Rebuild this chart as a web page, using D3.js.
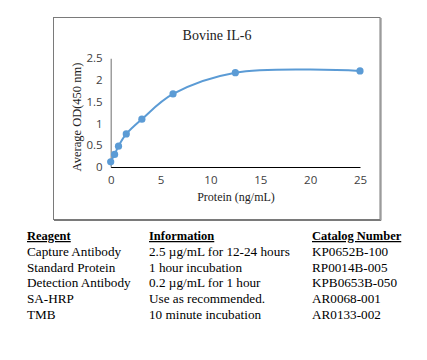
<!DOCTYPE html>
<html>
<head>
<meta charset="utf-8">
<script src="https://cdn.jsdelivr.net/npm/d3@7"></script>
<style>
  body { margin: 0; background: #fff; }
  svg { display: block; }
</style>
</head>
<body>
<svg id="chart" width="427" height="360"></svg>
<script>
// standard curve (2-fold dilution from 25 ng/mL)
const conc = [0, 0.390625, 0.78125, 1.5625, 3.125, 6.25, 12.5, 25];
const od = [0.12, 0.29, 0.48, 0.76, 1.1, 1.68, 2.17, 2.21];
const xTicks = [0, 5, 10, 15, 20, 25];
const yTicks = [0, 0.5, 1, 1.5, 2, 2.5];

const tableHead = ["Reagent", "Information", "Catalog Number"];
const reagents = ["Capture Antibody", "Standard Protein", "Detection Antibody", "SA-HRP", "TMB"];
const info = ["2.5 \u00b5g/mL for 12-24 hours", "1 hour incubation", "0.2 \u00b5g/mL for 1 hour", "Use as recommended.", "10 minute incubation"];
const catalog = ["KP0652B-100", "RP0014B-005", "KPB0653B-050", "AR0068-001", "AR0133-002"];

const svg = d3.select('#chart');
const serif = "'Liberation Serif', 'DejaVu Serif', serif";
const sans = "'Open Sans', 'Liberation Sans', sans-serif";

// chart frame
svg.append('rect')
  .attr('x', 53.5).attr('y', 17.5)
  .attr('width', 326.5).attr('height', 202)
  .attr('fill', 'none')
  .attr('stroke', '#7a7a7a');
svg.append('path')
  .attr('d', 'M381,18V220.5M54,220.5H381')
  .attr('stroke', '#7a7a7a')
  .attr('fill', 'none');

const x = d3.scaleLinear().domain([0, 25]).range([110.7, 360]);
const y = d3.scaleLinear().domain([0, 2.5]).range([167, 58.3]);

// y axis
const yAxis = svg.append('g')
  .attr('transform', `translate(${x(0)},0)`)
  .call(d3.axisLeft(y).tickValues(yTicks).tickSize(0).tickPadding(8).tickFormat(d3.format('')));
yAxis.select('.domain').attr('stroke', '#868686').attr('stroke-width', 1.2);
yAxis.selectAll('.tick text')
  .attr('fill', '#404040')
  .style('font-family', sans)
  .style('font-size', '11.5px');

// x axis
const xAxis = svg.append('g')
  .attr('transform', `translate(0,${y(0)})`)
  .call(d3.axisBottom(x).tickValues(xTicks).tickSize(0).tickPadding(9));
xAxis.select('.domain').attr('stroke', '#000').attr('stroke-width', 1);
xAxis.selectAll('.tick text')
  .attr('fill', '#404040')
  .style('font-family', sans)
  .style('font-size', '11.5px');

// curve
const pts = conc.map((c, i) => [c, od[i]]);
svg.append('path')
  .datum(pts)
  .attr('fill', 'none')
  .attr('stroke', '#5b9bd5')
  .attr('stroke-width', 2)
  .attr('d', d3.line().x(d => x(d[0])).y(d => y(d[1])).curve(d3.curveCatmullRom.alpha(0.5)));

svg.selectAll('circle.pt')
  .data(pts)
  .join('circle')
  .attr('class', 'pt')
  .attr('cx', d => x(d[0]))
  .attr('cy', d => y(d[1]))
  .attr('r', 3.6)
  .attr('fill', '#5b9bd5');

// titles
svg.append('text')
  .attr('x', 217).attr('y', 40)
  .attr('text-anchor', 'middle')
  .style('font-family', serif).style('font-size', '14px')
  .attr('fill', '#222')
  .text('Bovine IL-6');

svg.append('text')
  .attr('transform', 'translate(81,117) rotate(-90)')
  .attr('text-anchor', 'middle')
  .style('font-family', serif).style('font-size', '12.5px')
  .attr('fill', '#222')
  .text('Average OD(450 nm)');

svg.append('text')
  .attr('x', 236).attr('y', 201)
  .attr('text-anchor', 'middle')
  .style('font-family', serif).style('font-size', '12px')
  .attr('fill', '#222')
  .text('Protein (ng/mL)');

// reagent table
const colX = [27, 149, 312];
const rowY = d3.scaleLinear().domain([0, 5]).range([240, 319]);

svg.selectAll('text.head')
  .data(tableHead)
  .join('text')
  .attr('class', 'head')
  .attr('x', (d, i) => colX[i])
  .attr('y', rowY(0))
  .style('font-family', serif).style('font-size', '12.5px')
  .style('font-weight', 'bold')
  .style('text-decoration', 'underline')
  .attr('fill', '#000')
  .text(d => d);

[reagents, info, catalog].forEach((col, ci) => {
  svg.selectAll('text.c' + ci)
    .data(col)
    .join('text')
    .attr('class', 'c' + ci)
    .attr('x', colX[ci])
    .attr('y', (d, i) => rowY(i + 1))
    .style('font-family', serif).style('font-size', '13.2px')
    .attr('fill', '#000')
    .text(d => d);
});
</script>
</body>
</html>
